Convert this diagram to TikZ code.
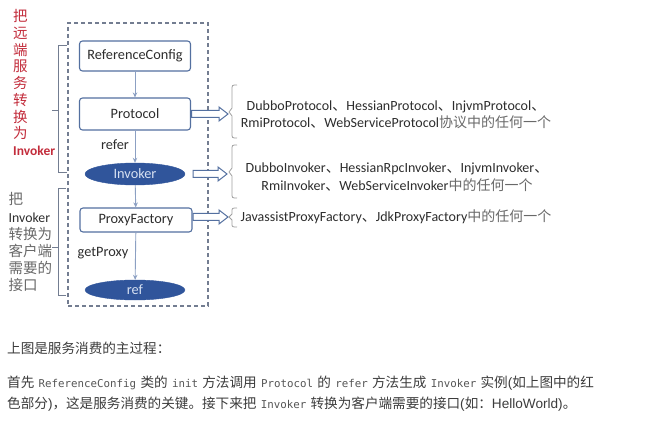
\documentclass[tikz,border=0pt]{standalone}
\usepackage{fontspec}
\setmainfont{Carlito}
\newfontfamily\cjk{Noto Sans CJK SC}
\newfontfamily\monof{DejaVu Sans Mono}
\newfontfamily\helv{Liberation Sans}
\usetikzlibrary{shapes.geometric,arrows.meta,calc}
\definecolor{boxblue}{RGB}{84,112,160}
\definecolor{ellfill}{RGB}{48,85,155}
\definecolor{elltext}{RGB}{215,225,242}
\definecolor{framegray}{RGB}{115,125,145}
\definecolor{linkblue}{RGB}{140,160,195}
\definecolor{redtxt}{RGB}{195,45,60}
\definecolor{darktxt}{RGB}{45,45,45}
\definecolor{graytxt}{RGB}{105,105,105}
\definecolor{bodytxt}{RGB}{60,60,60}
\definecolor{codetxt}{RGB}{85,85,85}
\newcommand{\codew}[1]{\hspace{4.3pt}{\monof\fontsize{10.8}{13}\selectfont\color{codetxt}#1}\hspace{4.3pt}}
\newcommand{\gcjk}[1]{{\cjk\color{graytxt}#1}}
\begin{document}
\begin{tikzpicture}[x=1pt,y=-1pt,
  stepbox/.style={draw=boxblue, line width=1.1pt, rounded corners=3pt, minimum width=111pt, inner sep=0pt, font=\fontsize{14.3}{16}\selectfont, text=darktxt, fill=white},
  ellnode/.style={ellipse, fill=ellfill, draw=ellfill, minimum width=100pt, inner sep=0pt, font=\fontsize{14.3}{16}\selectfont, text=elltext},
  link/.style={draw=linkblue, line width=0.9pt, -{Stealth[length=5pt,width=4.5pt]}},
  hollow/.style={draw=boxblue, line width=1pt, fill=white, line join=miter},
  brk/.style={draw=framegray, line width=0.9pt},
  rbrace/.style={draw=gray!75, line width=0.8pt},
  lbl/.style={font=\fontsize{14.3}{16}\selectfont, text=darktxt, inner sep=0pt},
  rtext/.style={align=center, font=\fontsize{14}{17.5}\selectfont, text=darktxt, inner sep=0pt},
  body/.style={anchor=west, inner sep=0pt, font=\cjk\fontsize{13.6}{15}\selectfont, text=bodytxt}
]
\useasboundingbox (0,0) rectangle (670,433);
\fill[white] (0,0) rectangle (670,433);

% dashed frame
\node[draw=framegray, dash pattern=on 4pt off 3pt, line width=1.2pt, minimum width=140pt, minimum height=283pt, inner sep=0pt] (frame) at (138,164.5) {};

% main chain
\node[stepbox, minimum height=30pt] (rc) at (135,56) {ReferenceConfig};
\node[stepbox, minimum height=32pt] (proto) at (135,114) {Protocol};
\node[ellnode, minimum height=22pt] (inv) at (135,174) {Invoker};
\node[stepbox, minimum height=24pt, minimum width=112pt] (pf) at (136,220) {ProxyFactory};
\node[ellnode, minimum height=20pt] (ref) at (135,290) {ref};

\draw[link] (rc) -- (proto);
\draw[link] (proto) -- (inv);
\draw[link] (inv) -- (pf);
\draw[link] (pf) -- (ref);

\node[lbl] (lrefer) at (115,145) {refer};
\node[lbl] (lget) at (103,253) {getProxy};

% left brackets
\draw[brk] (67,45) -- (58,45) -- (58,172) -- (67,172);
\draw[brk] (58,110) -- (52,110);
\draw[brk] (66,188) -- (58,188) -- (58,295) -- (66,295);
\draw[brk] (58,247) -- (52,247);

% left texts
\node[anchor=north west, align=left, inner sep=0pt, text=redtxt, font=\fontsize{14.5}{16.7}\selectfont] (redlbl) at (13,9.5)
  {\cjk 把\\\cjk 远\\\cjk 端\\\cjk 服\\\cjk 务\\\cjk 转\\\cjk 换\\\cjk 为\\\textbf{\fontsize{13.5}{18}\selectfont Invoker}};
\node[anchor=north west, align=left, inner sep=0pt, text=graytxt, font=\fontsize{14.5}{17.2}\selectfont] (blklbl) at (8.5,192.5)
  {\cjk 把\\{\color{darktxt}\fontsize{13.8}{17.2}\selectfont Invoker}\\\cjk 转换为\\\cjk 客户端\\\cjk 需要的\\\cjk 接口};

% right braces
\coordinate (b1) at (229,112);
\coordinate (b2) at (229,172);
\coordinate (b3) at (229,217);
\draw[rbrace] (237,85) .. controls (232,85) and (232,85) .. (232,90) -- (232,108) -- (b1) -- (232,116) -- (232,133) .. controls (232,138) and (232,138) .. (237,138);
\draw[rbrace] (237,145) .. controls (232,145) and (232,145) .. (232,150) -- (232,168) -- (b2) -- (232,176) -- (232,193) .. controls (232,198) and (232,198) .. (237,198);
\draw[rbrace] (237,208) .. controls (232,208) and (232,208) .. (232,212) -- (232,214) -- (b3) -- (232,220) -- (232,223) .. controls (232,227) and (232,227) .. (237,227);

% hollow arrows
\draw[hollow] let \p1=($(proto.east)+(0.5,0)$), \p2=($(b1)+(-1,2)$) in
  (\x1,\y1+3.5pt) -- (\x2-9pt,\y1+3.5pt) -- (\x2-9pt,\y1+7pt) -- (\x2,\y1) -- (\x2-9pt,\y1-7pt) -- (\x2-9pt,\y1-3.5pt) -- (\x1,\y1-3.5pt) -- cycle;
\draw[hollow] let \p1=($(inv.east)+(8,0)$), \p2=($(b2)+(-2,0)$) in
  (\x1,\y1+3.5pt) -- (\x2-9pt,\y1+3.5pt) -- (\x2-9pt,\y1+7pt) -- (\x2,\y1) -- (\x2-9pt,\y1-7pt) -- (\x2-9pt,\y1-3.5pt) -- (\x1,\y1-3.5pt) -- cycle;
\draw[hollow] let \p1=($(pf.east)+(0.5,-3)$), \p2=($(b3)+(-1,0)$) in
  (\x1,\y2+3.5pt) -- (\x2-9pt,\y2+3.5pt) -- (\x2-9pt,\y2+7pt) -- (\x2,\y2) -- (\x2-9pt,\y2-7pt) -- (\x2-9pt,\y2-3.5pt) -- (\x1,\y2-3.5pt) -- cycle;

% right texts
\node[rtext] (t1) at (396,114.5) {DubboProtocol{\cjk 、}HessianProtocol{\cjk 、}InjvmProtocol{\cjk 、}\\RmiProtocol{\cjk 、}WebServiceProtocol\gcjk{协议中的任何一个}};
\node[rtext] (t2) at (397,177) {DubboInvoker{\cjk 、}HessianRpcInvoker{\cjk 、}InjvmInvoker{\cjk 、}\\RmiInvoker{\cjk 、}WebServiceInvoker\gcjk{中的任何一个}};
\node[rtext] (t3) at (396,217) {JavassistProxyFactory{\cjk 、}JdkProxyFactory\gcjk{中的任何一个}};

% body text
\node[body] (p1) at (7,348) {上图是服务消费的主过程：};
\node[body] (p2) at (7,383) {首先\codew{ReferenceConfig}类的\codew{init}方法调用\codew{Protocol}的\codew{refer}方法生成\codew{Invoker}实例{\helv (}如上图中的红};
\node[body] (p3) at (7,404) {色部分{\helv )}，这是服务消费的关键。接下来把\codew{Invoker}转换为客户端需要的接口{\helv (}如：{\helv HelloWorld)}。};
\end{tikzpicture}
\end{document}
